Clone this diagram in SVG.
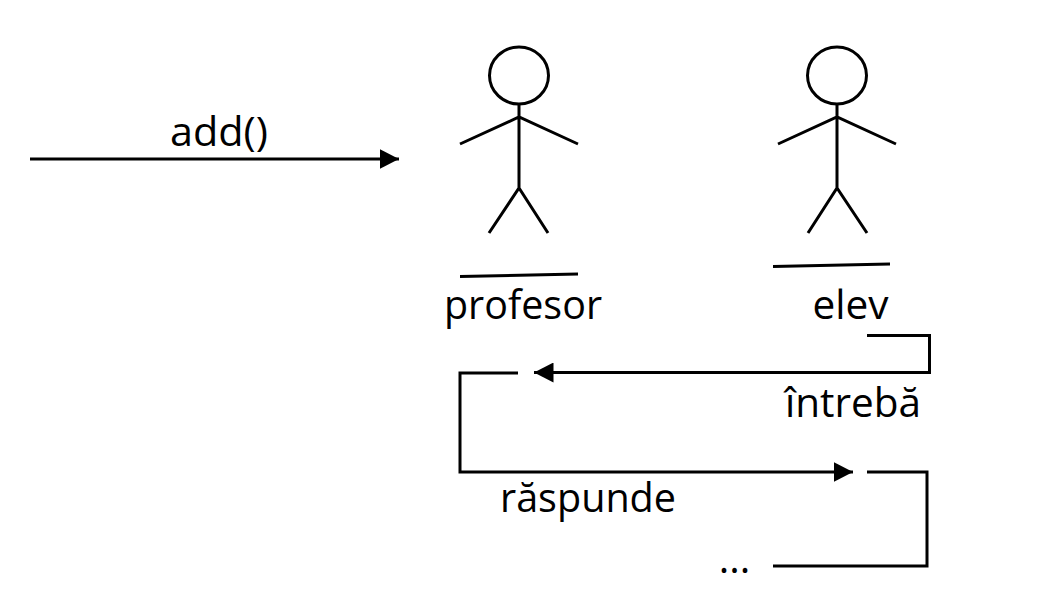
<svg xmlns="http://www.w3.org/2000/svg" width="1047" height="592" viewBox="0 0 1047 592">
<style>
.l{fill:none;stroke:#000;stroke-width:3}
text{font-family:"Open Sans","Noto Sans",sans-serif;font-size:40px;fill:#000}
</style>
<defs><marker id="a" markerUnits="userSpaceOnUse" markerWidth="20" markerHeight="20" refX="19.500" refY="10" orient="auto"><path d="M0 0L19.500 10L0 20Z" fill="#000"/></marker></defs>
<rect width="1047" height="592" fill="#fff"/>
<g id="actor-profesor"><ellipse class="l" cx="519" cy="75.500" rx="29.500" ry="28.500"/><path class="l" d="M519 104V188M460 144L519 117L578 144M489 233L519 188L548 233M460 276.500L578 274"/><text x="523" y="319" text-anchor="middle" textLength="158" lengthAdjust="spacingAndGlyphs">profesor</text></g>
<g id="actor-elev"><ellipse class="l" cx="837" cy="75.500" rx="29.500" ry="28.500"/><path class="l" d="M837 104V188M778 144L837 117L896 144M808 233L837 188L867 233M773 266.500L890 264"/><text x="850.500" y="319" text-anchor="middle" textLength="76" lengthAdjust="spacingAndGlyphs">elev</text></g>
<g id="connectors">
<path class="l" marker-end="url(#a)" d="M30 159H399"/>
<path class="l" marker-end="url(#a)" d="M867 335.500H929.500V372.500H534"/>
<path class="l" marker-end="url(#a)" d="M518 373H460V472H853"/>
<path class="l" d="M867 472H927V566H773"/>
</g>
<text x="219" y="146" text-anchor="middle" textLength="98" lengthAdjust="spacingAndGlyphs">add()</text>
<text x="853" y="417" text-anchor="middle" textLength="136" lengthAdjust="spacingAndGlyphs">întrebă</text>
<text x="588" y="512" text-anchor="middle" textLength="176" lengthAdjust="spacingAndGlyphs">răspunde</text>
<text x="734.500" y="573" text-anchor="middle">...</text>
</svg>
